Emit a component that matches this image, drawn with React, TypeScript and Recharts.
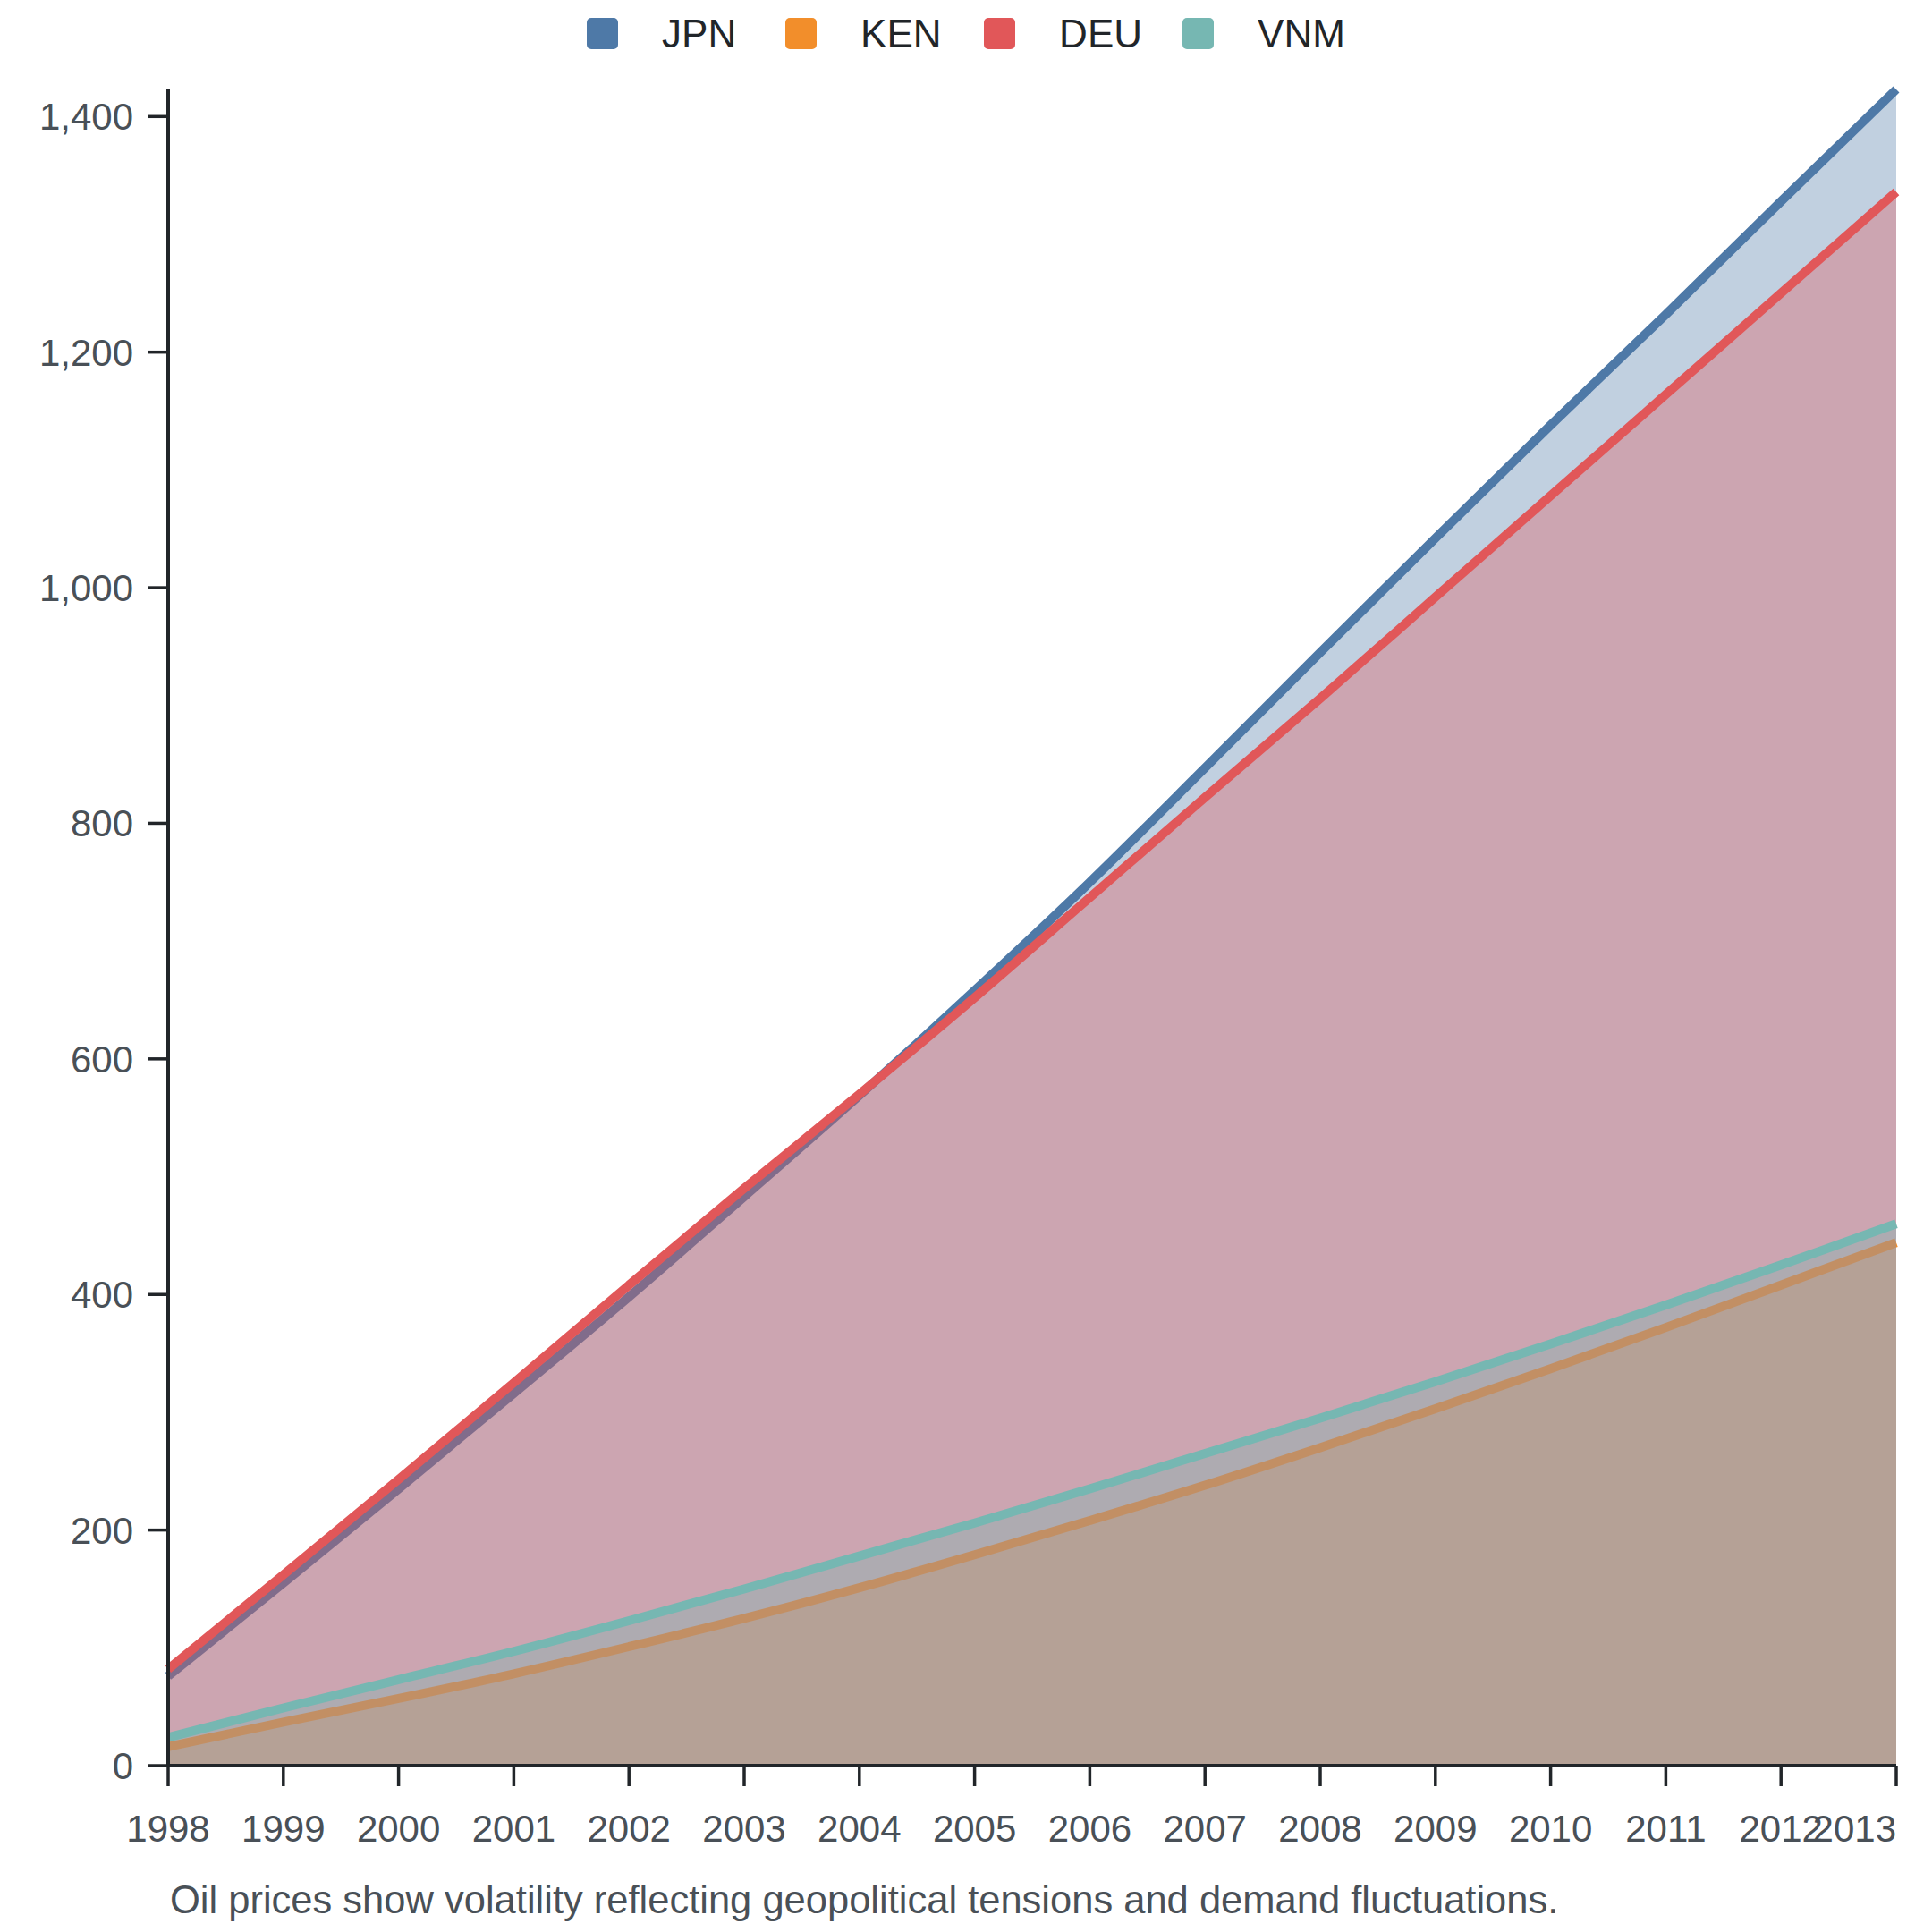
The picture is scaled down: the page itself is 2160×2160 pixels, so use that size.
import React from "react";
import { AreaChart, Area, XAxis, YAxis } from "recharts";

const years = [1998, 1999, 2000, 2001, 2002, 2003, 2004, 2005, 2006, 2007, 2008, 2009, 2010, 2011, 2012, 2013];
const jpn = [76, 155, 235, 316, 398, 483, 569, 658, 750, 847, 945, 1042, 1138, 1232, 1328, 1423];
const ken = [16, 37, 57, 78, 101, 125, 151, 179, 208, 238, 270, 303, 337, 372, 408, 444];
const deu = [82, 162, 243, 325, 408, 490, 570, 652, 737, 822, 906, 992, 1078, 1164, 1250, 1336];
const vnm = [24, 49, 73, 97, 123, 150, 178, 206, 235, 265, 295, 326, 358, 391, 425, 460];
const yTicks = [0, 200, 400, 600, 800, 1000, 1200, 1400];
const caption = "Oil prices show volatility reflecting geopolitical tensions and demand fluctuations.";

const series = [
  { key: "JPN", color: "#4e79a7" },
  { key: "KEN", color: "#f28e2b" },
  { key: "DEU", color: "#e15759" },
  { key: "VNM", color: "#76b7b2" },
];

const data = years.map((year, i) => ({
  year,
  JPN: jpn[i],
  KEN: ken[i],
  DEU: deu[i],
  VNM: vnm[i],
}));

const FONT = '"Liberation Sans", Arial, sans-serif';
const AXIS = "#212529";
const LABEL = "#495057";

// last year label sits flush against the axis end
function YearTick(props: any) {
  const { x, y, payload } = props;
  const last = payload.value === years[years.length - 1];
  return (
    <text x={x} y={y} dy="0.71em" textAnchor={last ? "end" : "middle"} fill={LABEL} fontSize={42} fontFamily={FONT}>
      {payload.value}
    </text>
  );
}

export default function App() {
  return (
    <div style={{ position: "absolute", left: 0, top: 0, width: 2160, height: 2160, background: "#fff", fontFamily: FONT }}>
      <div
        style={{
          position: "absolute",
          top: 20,
          left: 0,
          width: 2160,
          display: "flex",
          justifyContent: "center",
          alignItems: "center",
          height: 35,
        }}
      >
        {series.map((s, i) => (
          <div key={s.key} style={{ display: "flex", alignItems: "center", width: i < series.length - 1 ? 222 : "auto" }}>
            <div style={{ width: 35, height: 35, borderRadius: 5, background: s.color }} />
            <span style={{ marginLeft: 49, fontSize: 44, lineHeight: "35px", color: AXIS }}>{s.key}</span>
          </div>
        ))}
      </div>

      <AreaChart width={2160} height={2160} data={data} margin={{ top: 100, right: 40, bottom: 126, left: 88 }}>
        <XAxis
          dataKey="year"
          type="category"
          interval={0}
          height={60}
          tickSize={23}
          tickMargin={32}
          axisLine={{ stroke: AXIS, strokeWidth: 4 }}
          tickLine={{ stroke: AXIS, strokeWidth: 3.5 }}
          tick={<YearTick />}
        />
        <YAxis
          width={100}
          domain={[0, "dataMax"]}
          ticks={yTicks}
          interval={0}
          tickSize={23}
          tickMargin={16}
          axisLine={{ stroke: AXIS, strokeWidth: 4 }}
          tickLine={{ stroke: AXIS, strokeWidth: 3.5 }}
          tick={{ fill: LABEL, fontSize: 42, fontFamily: FONT }}
          tickFormatter={(v: number) => v.toLocaleString("en-US")}
        />
        {series.map((s) => (
          <Area
            key={s.key}
            type="monotone"
            dataKey={s.key}
            stroke={s.color}
            strokeWidth={10}
            fill={s.color}
            fillOpacity={0.35}
            dot={false}
            activeDot={false}
            isAnimationActive={false}
          />
        ))}
      </AreaChart>

      <div style={{ position: "absolute", left: 190, top: 2103, fontSize: 43.5, lineHeight: "43.5px", color: LABEL, whiteSpace: "nowrap" }}>
        {caption}
      </div>
    </div>
  );
}
